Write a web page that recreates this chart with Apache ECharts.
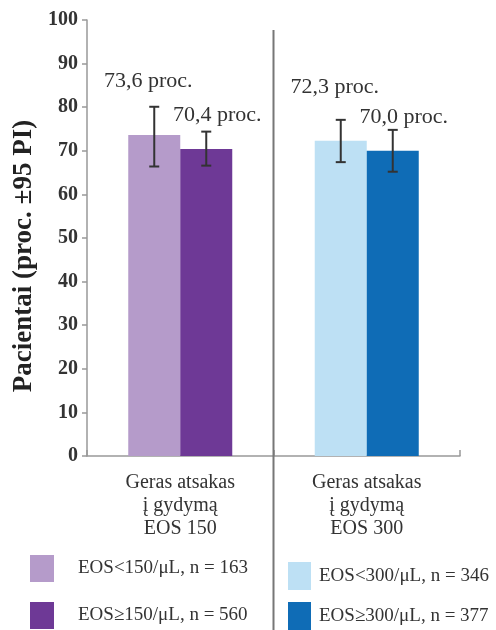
<!DOCTYPE html>
<html>
<head>
<meta charset="utf-8">
<script src="https://cdn.jsdelivr.net/npm/echarts@6/dist/echarts.min.js"></script>
<style>
  html, body { margin: 0; padding: 0; background: #fff; }
  #chart { width: 496px; height: 630px; }
</style>
</head>
<body>
<div id="chart"></div>
<script>
// duomenys
const categories = ['Geras atsakas\nį gydymą\nEOS 150', 'Geras atsakas\nį gydymą\nEOS 300'];
const seriesNames = ['EOS<150/μL, n = 163', 'EOS≥150/μL, n = 560', 'EOS<300/μL, n = 346', 'EOS≥300/μL, n = 377'];
const eos150Low = [73.6, '-'];
const eos150High = [70.4, '-'];
const eos300Low = ['-', 72.3];
const eos300High = ['-', 70.0];
// 95 % PI (apatinė / viršutinė riba), tokia pat tvarka kaip seriesNames
const ciLower = [66.4, 66.6, 67.4, 65.2];
const ciUpper = [80.1, 74.4, 77.1, 74.8];
const ciCategory = [0, 0, 1, 1];
const yTicks = { min: 0, max: 100, interval: 10 };

const colors = ['#b59bca', '#6e3996', '#bde0f4', '#0f6cb6'];
const FONT = 'Liberation Serif';
const BAR_W = 52;

const chart = echarts.init(document.getElementById('chart'));

const fmt = v => v.toFixed(1).replace('.', ',') + ' proc.';

// šviesūs stulpeliai – etiketė aukščiau ir kairiau, tamsūs – žemiau ir dešiniau
const lightLabel = {
	show: true, position: 'top', distance: 0, offset: [-6, -43],
	fontFamily: FONT, fontSize: 22, color: '#333',
	formatter: p => fmt(p.value)
};
const darkLabel = Object.assign({}, lightLabel, { offset: [11, -23] });

const barSeries = (name, data, stack, color, label) => ({
	name, type: 'bar', data, stack, barWidth: BAR_W, barGap: '0%',
	itemStyle: { color }, label, z: 2
});

chart.setOption({
	animation: false,
	grid: { left: 87, right: 36, top: 20, bottom: 174 },
	xAxis: {
		type: 'category',
		data: categories,
		axisLine: { lineStyle: { color: '#999', width: 1.5 } },
		axisTick: { show: true, inside: true, length: 6, lineStyle: { color: '#999', width: 1.5 } },
		axisLabel: { fontFamily: FONT, fontSize: 20, color: '#333', lineHeight: 23, margin: 15 }
	},
	yAxis: {
		type: 'value',
		min: yTicks.min, max: yTicks.max, interval: yTicks.interval,
		name: 'Pacientai (proc. ±95 PI)',
		nameLocation: 'middle',
		nameGap: 46,
		nameTextStyle: { fontFamily: FONT, fontSize: 27, fontWeight: 'bold', color: '#222', padding: [0, 36, 0, 0] },
		axisLine: { show: true, lineStyle: { color: '#999', width: 1.5 } },
		axisTick: { show: true, length: 5, lineStyle: { color: '#999', width: 1.5 } },
		axisLabel: { fontFamily: FONT, fontSize: 20, fontWeight: 'bold', color: '#333', margin: 9 },
		splitLine: { show: false }
	},
	legend: [
		{
			data: seriesNames.slice(0, 2), orient: 'vertical', left: 30, top: 555,
			icon: 'rect', itemWidth: 24, itemHeight: 27, itemGap: 20, padding: 0,
			textStyle: { fontFamily: FONT, fontSize: 19, color: '#333', padding: [0, 0, 0, 19] }
		},
		{
			data: seriesNames.slice(2), orient: 'vertical', left: 288, top: 562,
			icon: 'rect', itemWidth: 23, itemHeight: 28, itemGap: 12, padding: 0,
			textStyle: { fontFamily: FONT, fontSize: 19, color: '#333', padding: [0, 0, 0, 3] }
		}
	],
	series: [
		barSeries(seriesNames[0], eos150Low, 'low', colors[0], lightLabel),
		barSeries(seriesNames[1], eos150High, 'high', colors[1], darkLabel),
		barSeries(seriesNames[2], eos300Low, 'low', colors[2], lightLabel),
		barSeries(seriesNames[3], eos300High, 'high', colors[3], darkLabel),
		{
			// paklaidų juostos
			type: 'custom',
			z: 5,
			silent: true,
			data: ciLower.map((lo, i) => [ciCategory[i], lo, ciUpper[i], i % 2 === 0 ? -1 : 1]),
			renderItem: (params, api) => {
				const side = api.value(3);
				const top = api.coord([api.value(0), api.value(2)]);
				const bot = api.coord([api.value(0), api.value(1)]);
				const x = top[0] + side * BAR_W / 2;
				const cap = 5;
				const style = { stroke: '#333', lineWidth: 2 };
				return {
					type: 'group',
					children: [
						{ type: 'line', shape: { x1: x, y1: top[1], x2: x, y2: bot[1] }, style },
						{ type: 'line', shape: { x1: x - cap, y1: top[1], x2: x + cap, y2: top[1] }, style },
						{ type: 'line', shape: { x1: x - cap, y1: bot[1], x2: x + cap, y2: bot[1] }, style }
					]
				};
			}
		}
	]
});

// skiriamoji linija tarp kategorijų
const c0 = chart.convertToPixel({ xAxisIndex: 0 }, 0);
const c1 = chart.convertToPixel({ xAxisIndex: 0 }, 1);
const midX = (c0 + c1) / 2;
chart.setOption({
	graphic: [{
		type: 'line', z: 10,
		shape: { x1: midX, y1: 30, x2: midX, y2: 630 },
		style: { stroke: '#777', lineWidth: 2 }
	}]
});
</script>
</body>
</html>
